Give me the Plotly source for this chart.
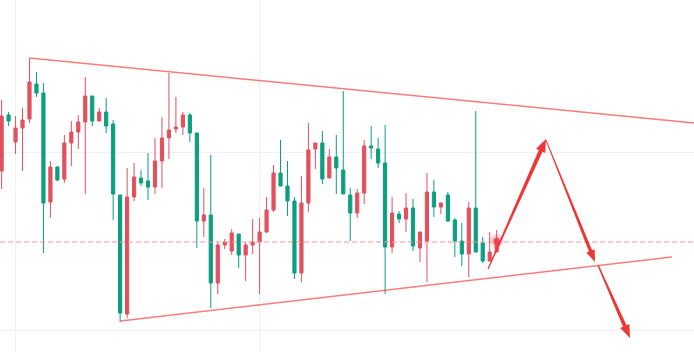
import math
import plotly.graph_objects as go

# ---- data (price units) ----
idx = list(range(72))
open_ = [181, 237, 210, 224, 233, 268, 259, 150, 185, 173, 209, 220, 230, 256, 231, 240, 228, 157, 38, 155,
         174, 171, 165, 191, 214, 223, 225, 237, 219, 131, 137, 69, 107, 101, 118, 97, 107, 110, 120, 142,
         179, 166, 151, 79, 149, 203, 209, 174, 195, 182, 157, 139, 159, 206, 203, 189, 105, 138, 133, 144,
         104, 111, 160, 145, 157, 132, 111, 98, 144, 109, 91, 100]
high = [252, 240, 236, 244, 294, 280, 269, 191, 186, 217, 231, 237, 275, 256, 244, 254, 232, 157, 184, 189,
        182, 199, 214, 235, 279, 255, 240, 239, 219, 164, 197, 110, 113, 123, 118, 110, 133, 134, 155, 187,
        212, 191, 155, 176, 229, 209, 221, 203, 217, 261, 164, 163, 212, 226, 214, 227, 155, 141, 159, 153,
        120, 179, 172, 149, 160, 134, 129, 150, 241, 115, 120, 122]
low = [163, 226, 198, 181, 229, 255, 99, 134, 171, 169, 186, 203, 158, 226, 231, 219, 132, 30, 34, 151,
       166, 152, 158, 164, 193, 219, 217, 210, 104, 115, 44, 58, 103, 97, 84, 71, 98, 58, 119, 140,
       166, 136, 73, 70, 140, 183, 168, 174, 158, 158, 111, 134, 148, 193, 184, 58, 99, 129, 120, 101,
       90, 70, 135, 138, 130, 95, 86, 75, 100, 89, 91, 100]
close = [236, 231, 224, 232, 270, 259, 149, 185, 172, 209, 220, 230, 256, 231, 240, 226, 158, 39, 155, 175,
         169, 165, 191, 214, 222, 225, 237, 219, 131, 137, 69, 107, 110, 119, 97, 107, 110, 120, 142, 179,
         166, 151, 79, 149, 202, 209, 173, 195, 184, 158, 139, 159, 206, 204, 189, 105, 139, 133, 144, 106,
         120, 160, 145, 149, 131, 111, 98, 144, 100, 91, 100, 112]

grid_x = [2, 37]
grid_y = [22, 200]

upper_line = [(4, 294), (99.3, 229)]
lower_line = [(17, 31), (96.14, 95)]
level_price = 110
last_marker = (71, 111)
arrows = [((69.76, 83), (78.07, 213)),
          ((78.07, 212), (85.1, 90)),
          ((85.53, 87), (90.12, 14))]

# ---- styles ----
W, H = 694, 352
XR = [-0.23, 99.3]
YR = [0, 352]
UP = '#E2505E'
DOWN = '#0C9E80'
ARROW = '#F03535'
TRI = 'rgba(246,80,80,0.75)'
LEVEL = '#F2949A'


def to_px(i, p):
    return ((i - XR[0]) / (XR[1] - XR[0]) * W, H - (p - YR[0]) / (YR[1] - YR[0]) * H)


def to_data(x, y):
    return (XR[0] + x / W * (XR[1] - XR[0]), YR[0] + (H - y) / H * (YR[1] - YR[0]))


def arrow_path(tail, tip, w0, w1, hl, hw):
    tx, ty = to_px(*tail)
    px, py = to_px(*tip)
    L = math.hypot(px - tx, py - ty)
    dx, dy = (px - tx) / L, (py - ty) / L
    nx, ny = -dy, dx
    bx, by = px - dx * hl, py - dy * hl
    pts = [(tx + nx * w0 / 2, ty + ny * w0 / 2), (bx + nx * w1 / 2, by + ny * w1 / 2),
           (bx + nx * hw, by + ny * hw), (px, py), (bx - nx * hw, by - ny * hw),
           (bx - nx * w1 / 2, by - ny * w1 / 2), (tx - nx * w0 / 2, ty - ny * w0 / 2)]
    d = [to_data(*p) for p in pts]
    return 'M ' + ' L '.join(f'{a:.4f},{b:.4f}' for a, b in d) + ' Z'


fig = go.Figure()
fig.add_trace(go.Candlestick(
    x=idx, open=open_, high=high, low=low, close=close,
    increasing=dict(line=dict(color=UP, width=1), fillcolor=UP),
    decreasing=dict(line=dict(color=DOWN, width=1), fillcolor=DOWN),
    hoverinfo='skip', showlegend=False))

# dashed price level drawn as a trace so it sits under the candles
fig.add_trace(go.Scatter(x=[XR[0], XR[1]], y=[level_price, level_price], mode='lines',
                         line=dict(color=LEVEL, width=1, dash='5px,3px'), hoverinfo='skip',
                         showlegend=False))

shapes = []
shapes.append(dict(type='line', xref='x', yref='y', x0=upper_line[0][0], y0=upper_line[0][1],
                   x1=upper_line[1][0], y1=upper_line[1][1],
                   line=dict(color=TRI, width=1.5)))
shapes.append(dict(type='line', xref='x', yref='y', x0=lower_line[0][0], y0=lower_line[0][1],
                   x1=lower_line[1][0], y1=lower_line[1][1],
                   line=dict(color=TRI, width=1.5)))
styles = [(1.2, 4.0, 13, 5.0), (0.8, 3.4, 12, 4.5), (1.4, 3.8, 13, 5.0)]
for (tail, tip), (w0, w1, hl, hw) in zip(arrows, styles):
    shapes.append(dict(type='path', xref='x', yref='y', path=arrow_path(tail, tip, w0, w1, hl, hw),
                       fillcolor=ARROW, line=dict(width=0)))

fig.add_trace(go.Scatter(x=[last_marker[0]], y=[last_marker[1]], mode='markers',
                         marker=dict(size=14, color='rgba(242,54,69,0.18)'), hoverinfo='skip',
                         showlegend=False))
fig.add_trace(go.Scatter(x=[last_marker[0]], y=[last_marker[1]], mode='markers',
                         marker=dict(size=7, color='rgba(242,54,69,0.75)'), hoverinfo='skip',
                         showlegend=False))

fig.update_layout(
    width=W, height=H, margin=dict(l=0, r=0, t=0, b=0),
    paper_bgcolor='white', plot_bgcolor='white', shapes=shapes, showlegend=False,
    boxgap=0.35,
    xaxis=dict(range=XR, tickvals=grid_x, showticklabels=False, showgrid=True, gridcolor='#F0F1F5',
               gridwidth=1, zeroline=False, showline=False, rangeslider=dict(visible=False), fixedrange=True),
    yaxis=dict(range=YR, tickvals=grid_y, showticklabels=False, showgrid=True, gridcolor='#F0F1F5',
               gridwidth=1, zeroline=False, showline=False, fixedrange=True),
)
fig.write_html('out.html')
